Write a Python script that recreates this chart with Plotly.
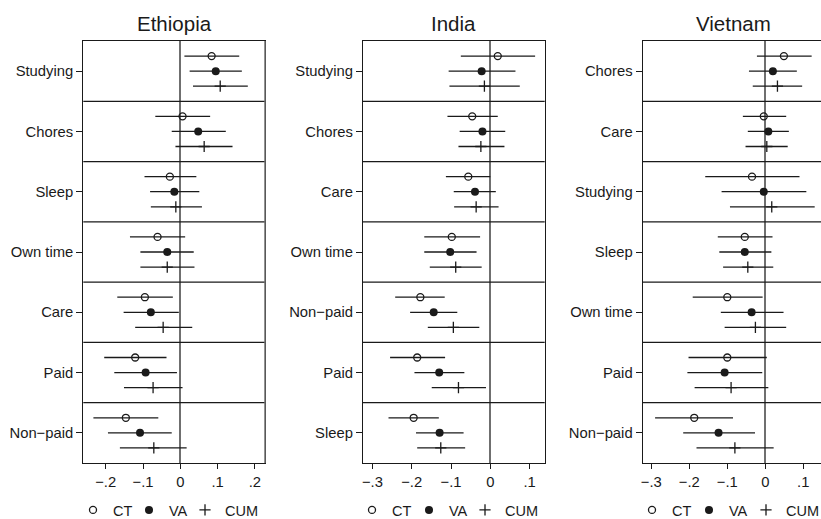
import plotly.graph_objects as go

# ---------------- data ----------------
countries = ["Ethiopia", "India", "Vietnam"]

eth_cats = ["Studying", "Chores", "Sleep", "Own time", "Care", "Paid", "Non−paid"]
eth_ct = [0.084, 0.006, -0.028, -0.061, -0.095, -0.121, -0.146]
eth_ct_lo = [0.011, -0.067, -0.096, -0.135, -0.169, -0.204, -0.233]
eth_ct_hi = [0.158, 0.080, 0.043, 0.013, -0.020, -0.037, -0.059]
eth_va = [0.095, 0.048, -0.016, -0.035, -0.079, -0.093, -0.108]
eth_va_lo = [0.025, -0.023, -0.081, -0.107, -0.152, -0.177, -0.194]
eth_va_hi = [0.165, 0.122, 0.051, 0.036, -0.004, -0.009, -0.023]
eth_cum = [0.107, 0.064, -0.012, -0.035, -0.046, -0.073, -0.071]
eth_cum_lo = [0.034, -0.013, -0.079, -0.107, -0.121, -0.151, -0.162]
eth_cum_hi = [0.181, 0.140, 0.058, 0.038, 0.032, 0.006, 0.017]

ind_cats = ["Studying", "Chores", "Care", "Own time", "Non−paid", "Paid", "Sleep"]
ind_ct = [0.019, -0.046, -0.056, -0.098, -0.178, -0.186, -0.195]
ind_ct_lo = [-0.075, -0.109, -0.113, -0.168, -0.242, -0.255, -0.259]
ind_ct_hi = [0.114, 0.019, 0.000, -0.026, -0.116, -0.115, -0.131]
ind_va = [-0.022, -0.020, -0.039, -0.102, -0.144, -0.130, -0.129]
ind_va_lo = [-0.106, -0.078, -0.093, -0.168, -0.204, -0.193, -0.189]
ind_va_hi = [0.064, 0.038, 0.014, -0.035, -0.084, -0.066, -0.068]
ind_cum = [-0.015, -0.024, -0.036, -0.088, -0.094, -0.081, -0.126]
ind_cum_lo = [-0.104, -0.081, -0.092, -0.154, -0.159, -0.149, -0.186]
ind_cum_hi = [0.075, 0.036, 0.021, -0.022, -0.028, -0.011, -0.064]

vnm_cats = ["Chores", "Care", "Studying", "Sleep", "Own time", "Paid", "Non−paid"]
vnm_ct = [0.049, -0.004, -0.035, -0.054, -0.100, -0.100, -0.187]
vnm_ct_lo = [-0.022, -0.059, -0.158, -0.125, -0.191, -0.202, -0.290]
vnm_ct_hi = [0.122, 0.055, 0.090, 0.019, -0.007, 0.004, -0.085]
vnm_va = [0.020, 0.008, -0.004, -0.054, -0.036, -0.107, -0.123]
vnm_va_lo = [-0.043, -0.046, -0.115, -0.121, -0.117, -0.205, -0.216]
vnm_va_hi = [0.083, 0.062, 0.108, 0.016, 0.048, -0.008, -0.027]
vnm_cum = [0.032, 0.004, 0.017, -0.046, -0.026, -0.090, -0.080]
vnm_cum_lo = [-0.033, -0.052, -0.093, -0.111, -0.107, -0.186, -0.181]
vnm_cum_hi = [0.097, 0.059, 0.130, 0.021, 0.055, 0.008, 0.022]

eth_ticks = [-0.2, -0.1, 0, 0.1, 0.2]
eth_ticklabels = ["−.2", "−.1", "0", ".1", ".2"]
ind_ticks = [-0.3, -0.2, -0.1, 0, 0.1]
ind_ticklabels = ["−.3", "−.2", "−.1", "0", ".1"]
vnm_ticks = [-0.3, -0.2, -0.1, 0, 0.1]
vnm_ticklabels = ["−.3", "−.2", "−.1", "0", ".1"]

series_names = ["CT", "VA", "CUM"]

# ---------------- layout helpers ----------------
W, H = 821, 519
FONT = "Liberation Sans, Arial, Helvetica, sans-serif"
INK = "#1a1a1a"
GRAY = "#6f6f6f"

panels = [
    dict(cats=eth_cats,
         series=[(eth_ct, eth_ct_lo, eth_ct_hi), (eth_va, eth_va_lo, eth_va_hi), (eth_cum, eth_cum_lo, eth_cum_hi)],
         ticks=eth_ticks, ticklabels=eth_ticklabels,
         px=(83.3, 265.0), xrange=(-0.2601, 0.2271), legend_sym=(98, 154, 210)),
    dict(cats=ind_cats,
         series=[(ind_ct, ind_ct_lo, ind_ct_hi), (ind_va, ind_va_lo, ind_va_hi), (ind_cum, ind_cum_lo, ind_cum_hi)],
         ticks=ind_ticks, ticklabels=ind_ticklabels,
         px=(363.0, 544.7), xrange=(-0.3239, 0.1384), legend_sym=(377, 434, 490)),
    dict(cats=vnm_cats,
         series=[(vnm_ct, vnm_ct_lo, vnm_ct_hi), (vnm_va, vnm_va_lo, vnm_va_hi), (vnm_cum, vnm_cum_lo, vnm_cum_hi)],
         ticks=vnm_ticks, ticklabels=vnm_ticklabels,
         px=(642.7, 821.0), xrange=(-0.3226, 0.1466), legend_sym=(657, 714, 771)),
]
title_centers = [174.2, 453.9, 733.8]

y_top_px, y_bot_px = 41.0, 463.0
ydomain = [1 - y_bot_px / H, 1 - y_top_px / H]

marker_styles = [
    dict(symbol="circle-open", size=7, color=INK, line=dict(width=1.3, color=INK)),
    dict(symbol="circle", size=8, color=INK),
    dict(symbol="cross-thin", size=8, color=INK, line=dict(width=1.3, color=INK)),
]
offsets = [-0.25, 0.0, 0.25]
LEG_SYM_OFFSET = 20  # px from legend x to symbol centre

fig = go.Figure()
layout_updates = {}
shapes = []
annotations = []

for p_i, (name, p) in enumerate(zip(countries, panels)):
    ax = "" if p_i == 0 else str(p_i + 1)
    xa, ya = "x" + ax, "y" + ax
    n = len(p["cats"])
    for s_i, (est, lo, hi) in enumerate(p["series"]):
        leg_idx = p_i * 3 + s_i + 1
        legend_id = "legend" if leg_idx == 1 else "legend" + str(leg_idx)
        ypos = [i + offsets[s_i] for i in range(n)]
        fig.add_trace(go.Scatter(
            x=est, y=ypos, mode="markers",
            name=series_names[s_i],
            marker=marker_styles[s_i],
            error_x=dict(type="data", symmetric=False,
                         array=[h - e for e, h in zip(est, hi)],
                         arrayminus=[e - l for e, l in zip(est, lo)],
                         color=INK, thickness=1.3, width=0),
            xaxis=xa, yaxis=ya, legend=legend_id, showlegend=True,
            hoverinfo="x+y",
        ))
        layout_updates[legend_id] = dict(
            orientation="h", x=(p["legend_sym"][s_i] - 5 - LEG_SYM_OFFSET) / W, y=1 - 510 / H,
            xanchor="left", yanchor="middle", bgcolor="rgba(0,0,0,0)",
            font=dict(family=FONT, size=14.5, color=INK),
            itemwidth=30, borderwidth=0,
        )
    x0, x1 = p["px"]
    layout_updates["xaxis" + ax] = dict(
        domain=[x0 / W, x1 / W], range=list(p["xrange"]), anchor=ya,
        tickmode="array", tickvals=p["ticks"], ticktext=p["ticklabels"],
        ticks="outside", ticklen=5, tickwidth=1, tickcolor=INK,
        showline=True, linecolor=INK, linewidth=1.2, mirror=True,
        showgrid=False, zeroline=True, zerolinecolor=GRAY, zerolinewidth=1.8,
        tickfont=dict(family=FONT, size=14.8, color=INK),
        fixedrange=True, automargin=False,
    )
    layout_updates["yaxis" + ax] = dict(
        domain=ydomain, range=[n - 0.5, -0.5], anchor=xa,
        tickmode="array", tickvals=list(range(n)), ticktext=p["cats"],
        ticks="outside", ticklen=6, tickwidth=1, tickcolor=INK,
        showline=True, linecolor=INK, linewidth=1.2, mirror=(p_i != 2),
        showgrid=False, zeroline=False,
        tickfont=dict(family=FONT, size=14.8, color=INK),
        fixedrange=True, automargin=False,
    )
    for k in range(n - 1):
        shapes.append(dict(type="line", xref=xa + " domain", yref=ya,
                           x0=0, x1=1, y0=k + 0.5, y1=k + 0.5,
                           line=dict(color=INK, width=1.2), layer="above"))
    annotations.append(dict(text=name, x=title_centers[p_i] / W, y=1 - 24 / H,
                            xref="paper", yref="paper", showarrow=False,
                            xanchor="center", yanchor="middle",
                            font=dict(family=FONT, size=20.5, color=INK)))

# Ethiopia right border appears gray in reference
shapes.append(dict(type="line", xref="x domain", yref="y domain", x0=1, x1=1, y0=0, y1=1,
                   line=dict(color=GRAY, width=1.5), layer="above"))

fig.update_layout(
    width=W, height=H,
    margin=dict(l=0, r=0, t=0, b=0, autoexpand=False),
    paper_bgcolor="white", plot_bgcolor="white",
    font=dict(family=FONT, color=INK),
    shapes=shapes, annotations=annotations,
    **layout_updates,
)

fig.write_html("out.html",
               config={"displayModeBar": False},
               post_script="document.body.style.margin='0';document.body.style.overflow='hidden';")
